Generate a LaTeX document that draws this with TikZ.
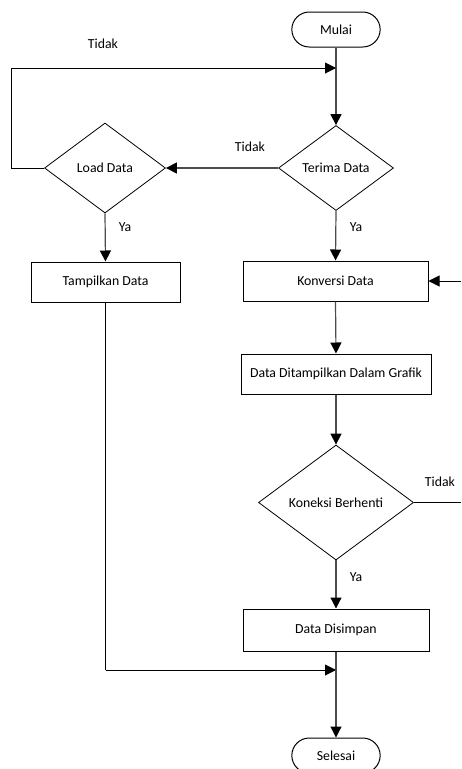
\documentclass[tikz,border=0pt]{standalone}
\usepackage{fontspec}
\setmainfont{Carlito}
\usetikzlibrary{shapes.geometric,shapes.misc,arrows.meta}
\begin{document}
\begin{tikzpicture}[x=1pt,y=-1pt,
  every node/.style={font=\fontsize{13.8}{16}\selectfont},
  term/.style={draw,rounded rectangle,minimum width=95pt,minimum height=35pt,line width=1pt},
  proc/.style={draw,rectangle,line width=1pt,inner sep=0pt},
  dec/.style={draw,diamond,aspect=1.35,inner sep=0pt,line width=0.8pt},
  tip/.style={-{Triangle[length=11pt,width=11pt,color=black]}},
  conn/.style={draw=black!70,line width=1.2pt,tip},
  plain/.style={draw=black,line width=1pt},
  lbl/.style={inner sep=0pt}]
\useasboundingbox (0,0) rectangle (461,769);
\node[term] (mulai) at (336,29.5) {Mulai};
\node[dec,minimum width=115pt,minimum height=85pt] (terima) at (336,168) {Terima Data};
\node[dec,minimum width=121pt,minimum height=90pt] (load) at (105,168) {Load Data};
\node[proc,minimum width=149pt,minimum height=40pt] (tampil) at (105.5,282) {Tampilkan Data};
\node[proc,minimum width=185pt,minimum height=40pt] (konv) at (335.5,281) {Konversi Data};
\node[proc,minimum width=190pt,minimum height=40pt] (grafik) at (336,374) {Data Ditampilkan Dalam Grafik};
\node[dec,minimum width=155pt,minimum height=115pt] (koneksi) at (336,502.5) {Koneksi Berhenti};
\node[proc,minimum width=186pt,minimum height=42pt] (simpan) at (336,630) {Data Disimpan};
\node[term] (selesai) at (336,755.5) {Selesai};
\coordinate (loopj) at (336,68);
\coordinate (loopl) at (11,68);
\coordinate (loopb) at (11,168);
\coordinate (mergej) at (336,670);
\coordinate (mergel) at (105.5,670);
\coordinate (rin) at (461,281);
\coordinate (rout) at (461,502.5);
% connectors
\draw[black!70,line width=1.2pt] (mulai.south) -- (loopj);
\draw[conn] (loopj) -- (terima.north);
\draw[conn] (terima.west) -- (load.east);
\draw[plain] (load.west) -- (loopb) -- (loopl);
\draw[plain,tip] (loopl) -- (loopj);
\draw[conn] (load.south) -- (tampil.north);
\draw[conn] (terima.south) -- (konv.north);
\draw[plain,tip] (rin) -- (konv.east);
\draw[conn] (konv.south) -- (grafik.north);
\draw[conn] (grafik.south) -- (koneksi.north);
\draw[plain] (koneksi.east) -- (rout);
\draw[conn] (koneksi.south) -- (simpan.north);
\draw[black!70,line width=1.2pt] (simpan.south) -- (mergej);
\draw[plain] (tampil.south) -- (mergel);
\draw[plain,tip] (mergel) -- (mergej);
\draw[conn] (mergej) -- (selesai.north);
% labels
\node[lbl] (t1) at (103,44) {Tidak};
\node[lbl] (t2) at (250,147) {Tidak};
\node[lbl] (t3) at (440,482) {Tidak};
\node[lbl] (y1) at (125,227) {Ya};
\node[lbl] (y2) at (356,227) {Ya};
\node[lbl] (y3) at (356,577) {Ya};
\end{tikzpicture}
\end{document}
